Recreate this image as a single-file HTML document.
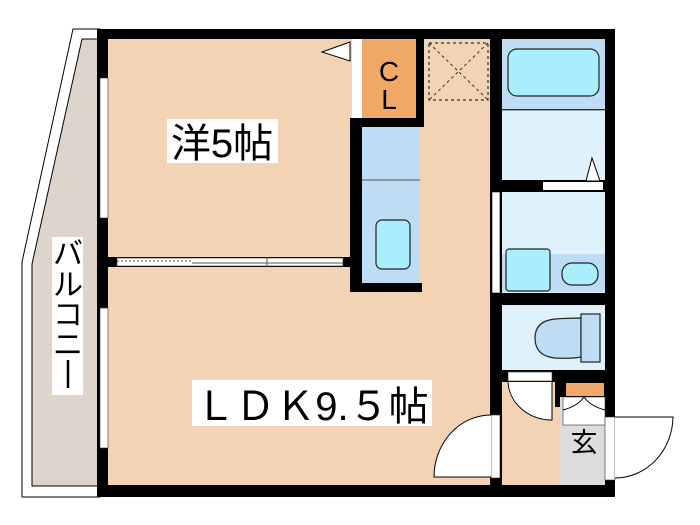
<!DOCTYPE html>
<html><head><meta charset="utf-8"><style>
html,body{margin:0;padding:0;background:#fff;width:700px;height:525px;overflow:hidden}
svg{display:block}
text{font-family:"Liberation Sans","Noto Sans CJK JP",sans-serif;fill:#000}
</style></head><body>
<svg width="700" height="525" viewBox="0 0 700 525" xmlns="http://www.w3.org/2000/svg">
<polygon points="73,29 100,29 100,497 22,497 22,262" fill="#fff" stroke="#000" stroke-width="1"/>
<polygon points="82,39 100,39 100,486 32,486 32,264" fill="#ddd5cb" stroke="#000" stroke-width="1"/>
<rect x="97" y="29" width="518" height="468" fill="#000"/>
<rect x="108" y="39" width="244" height="218" fill="#f2d3b4"/>
<rect x="108" y="267" width="382" height="218" fill="#f2d3b4"/>
<rect x="362" y="127" width="128" height="160" fill="#f2d3b4"/>
<rect x="424" y="39" width="66" height="100" fill="#f2d3b4"/>
<rect x="352" y="257" width="10" height="10" fill="#f2d3b4"/>
<rect x="350" y="267" width="12" height="218" fill="#f2d3b4"/>
<rect x="350" y="118" width="12" height="174" fill="#000"/>
<rect x="350" y="283" width="72" height="9" fill="#000"/>
<rect x="352" y="39" width="10" height="79" fill="#fff"/>
<polygon points="350,42 350,61 322,52 " fill="#fff" stroke="#000" stroke-width="1"/>
<rect x="362" y="39" width="54" height="79" fill="#f0a868"/>
<rect x="362" y="118" width="62" height="9" fill="#000"/>
<rect x="416" y="39" width="8" height="88" fill="#000"/>
<text x="389" y="81" font-size="28" text-anchor="middle">C</text>
<text x="389" y="109" font-size="28" text-anchor="middle">L</text>
<rect x="362" y="127" width="58" height="156" fill="#bfdcf5"/>
<line x1="362" y1="180" x2="420" y2="180" stroke="#555" stroke-width="1"/>
<rect x="376" y="220" width="34" height="49" rx="6" fill="#a9eefc" stroke="#222" stroke-width="1.2"/>
<rect x="429" y="43" width="59" height="57" fill="none" stroke="#333" stroke-width="1.2" stroke-dasharray="3,3"/>
<line x1="429" y1="43" x2="488" y2="100" stroke="#333" stroke-width="1" stroke-dasharray="3,3"/>
<line x1="488" y1="43" x2="429" y2="100" stroke="#333" stroke-width="1" stroke-dasharray="3,3"/>
<rect x="502" y="39" width="103" height="70" fill="#bfdcf5"/>
<rect x="508" y="49" width="91" height="47" rx="9" fill="#a9eefc" stroke="#222" stroke-width="1.2"/>
<rect x="502" y="110" width="103" height="70" fill="#dff2fc"/>
<line x1="502" y1="110" x2="605" y2="110" stroke="#555"/>
<rect x="543" y="182" width="60" height="8" fill="#fff"/>
<polygon points="586,181 600,181 592,158" fill="#fff" stroke="#000" stroke-width="1"/>
<rect x="502" y="192" width="103" height="101" fill="#dff2fc"/>
<rect x="492" y="192" width="8" height="101" fill="#fff" stroke="#000" stroke-width="0.6"/>
<rect x="502" y="254" width="103" height="38" fill="#bfdcf5"/>
<rect x="506" y="249" width="44" height="42" rx="3" fill="#a9eefc" stroke="#222" stroke-width="1.2"/>
<rect x="562" y="263" width="36" height="22" rx="10" fill="#a9eefc" stroke="#222" stroke-width="1.2"/>
<rect x="502" y="305" width="103" height="65" fill="#dff2fc"/>
<path d="M581,318 Q570,318 555,319 Q535,321 535,338 Q535,356 555,358 Q570,359 581,357 Z" fill="#bfdcf5" stroke="#222" stroke-width="1.2"/>
<rect x="581" y="314" width="19" height="48" fill="#bfdcf5" stroke="#222" stroke-width="1.2"/>
<rect x="502" y="382" width="53" height="103" fill="#f2d3b4"/>
<rect x="555" y="407" width="5" height="78" fill="#f2d3b4"/>
<rect x="508" y="372" width="44" height="9" fill="#fff" stroke="#333" stroke-width="0.6"/>
<path d="M508,382 A44,40 0 0 0 552,420 L552,382" fill="#fff" stroke="#000" stroke-width="1"/>
<rect x="566" y="383" width="38" height="13" fill="#f0a868"/>
<rect x="560" y="397" width="45" height="88" fill="#dcdcdc"/>
<rect x="563" y="397" width="42" height="28" fill="#fff" stroke="#333" stroke-width="0.6"/>
<path d="M563,410 Q578,406 584,397 Q590,406 605,410" fill="none" stroke="#000" stroke-width="1"/>
<text x="584" y="452" font-size="27" text-anchor="middle">玄</text>
<rect x="605" y="417" width="10" height="63" fill="#fff" stroke="#333" stroke-width="0.6"/>
<path d="M615,417 L673,417 A58,62 0 0 1 615,478" fill="#fff" stroke="#000" stroke-width="1"/>
<rect x="491" y="415" width="9" height="63" fill="#fff" stroke="#333" stroke-width="0.6"/>
<path d="M491,415 A57,62 0 0 0 434,477 L491,477" fill="#fff" stroke="#000" stroke-width="1"/>
<rect x="117" y="258" width="226" height="8" fill="#fff" stroke="#333" stroke-width="0.6"/>
<line x1="117" y1="261" x2="192" y2="261" stroke="#555" stroke-dasharray="2,2"/>
<line x1="192" y1="263" x2="343" y2="263" stroke="#555"/>
<line x1="267" y1="257" x2="267" y2="267" stroke="#555"/>
<rect x="100" y="78" width="8" height="140" fill="#fff" stroke="#333" stroke-width="0.6"/>
<rect x="100" y="308" width="8" height="140" fill="#fff" stroke="#333" stroke-width="0.6"/>
<rect x="167" y="119" width="111" height="44" fill="#fff"/>
<text x="222" y="157" font-size="40" text-anchor="middle">洋5帖</text>
<rect x="192" y="380" width="240" height="46" fill="#fff"/>
<text x="312" y="420" font-size="40" text-anchor="middle">ＬＤＫ9.５帖</text>
<rect x="52" y="237" width="31" height="158" fill="#fff"/>
<text x="68" y="264" font-size="30" text-anchor="middle">バ</text>
<text x="68" y="295" font-size="30" text-anchor="middle">ル</text>
<text x="68" y="325" font-size="30" text-anchor="middle">コ</text>
<text x="68" y="355" font-size="30" text-anchor="middle">ニ</text>
<line x1="68" y1="360" x2="68" y2="388" stroke="#000" stroke-width="2.5"/>
</svg>
</body></html>
